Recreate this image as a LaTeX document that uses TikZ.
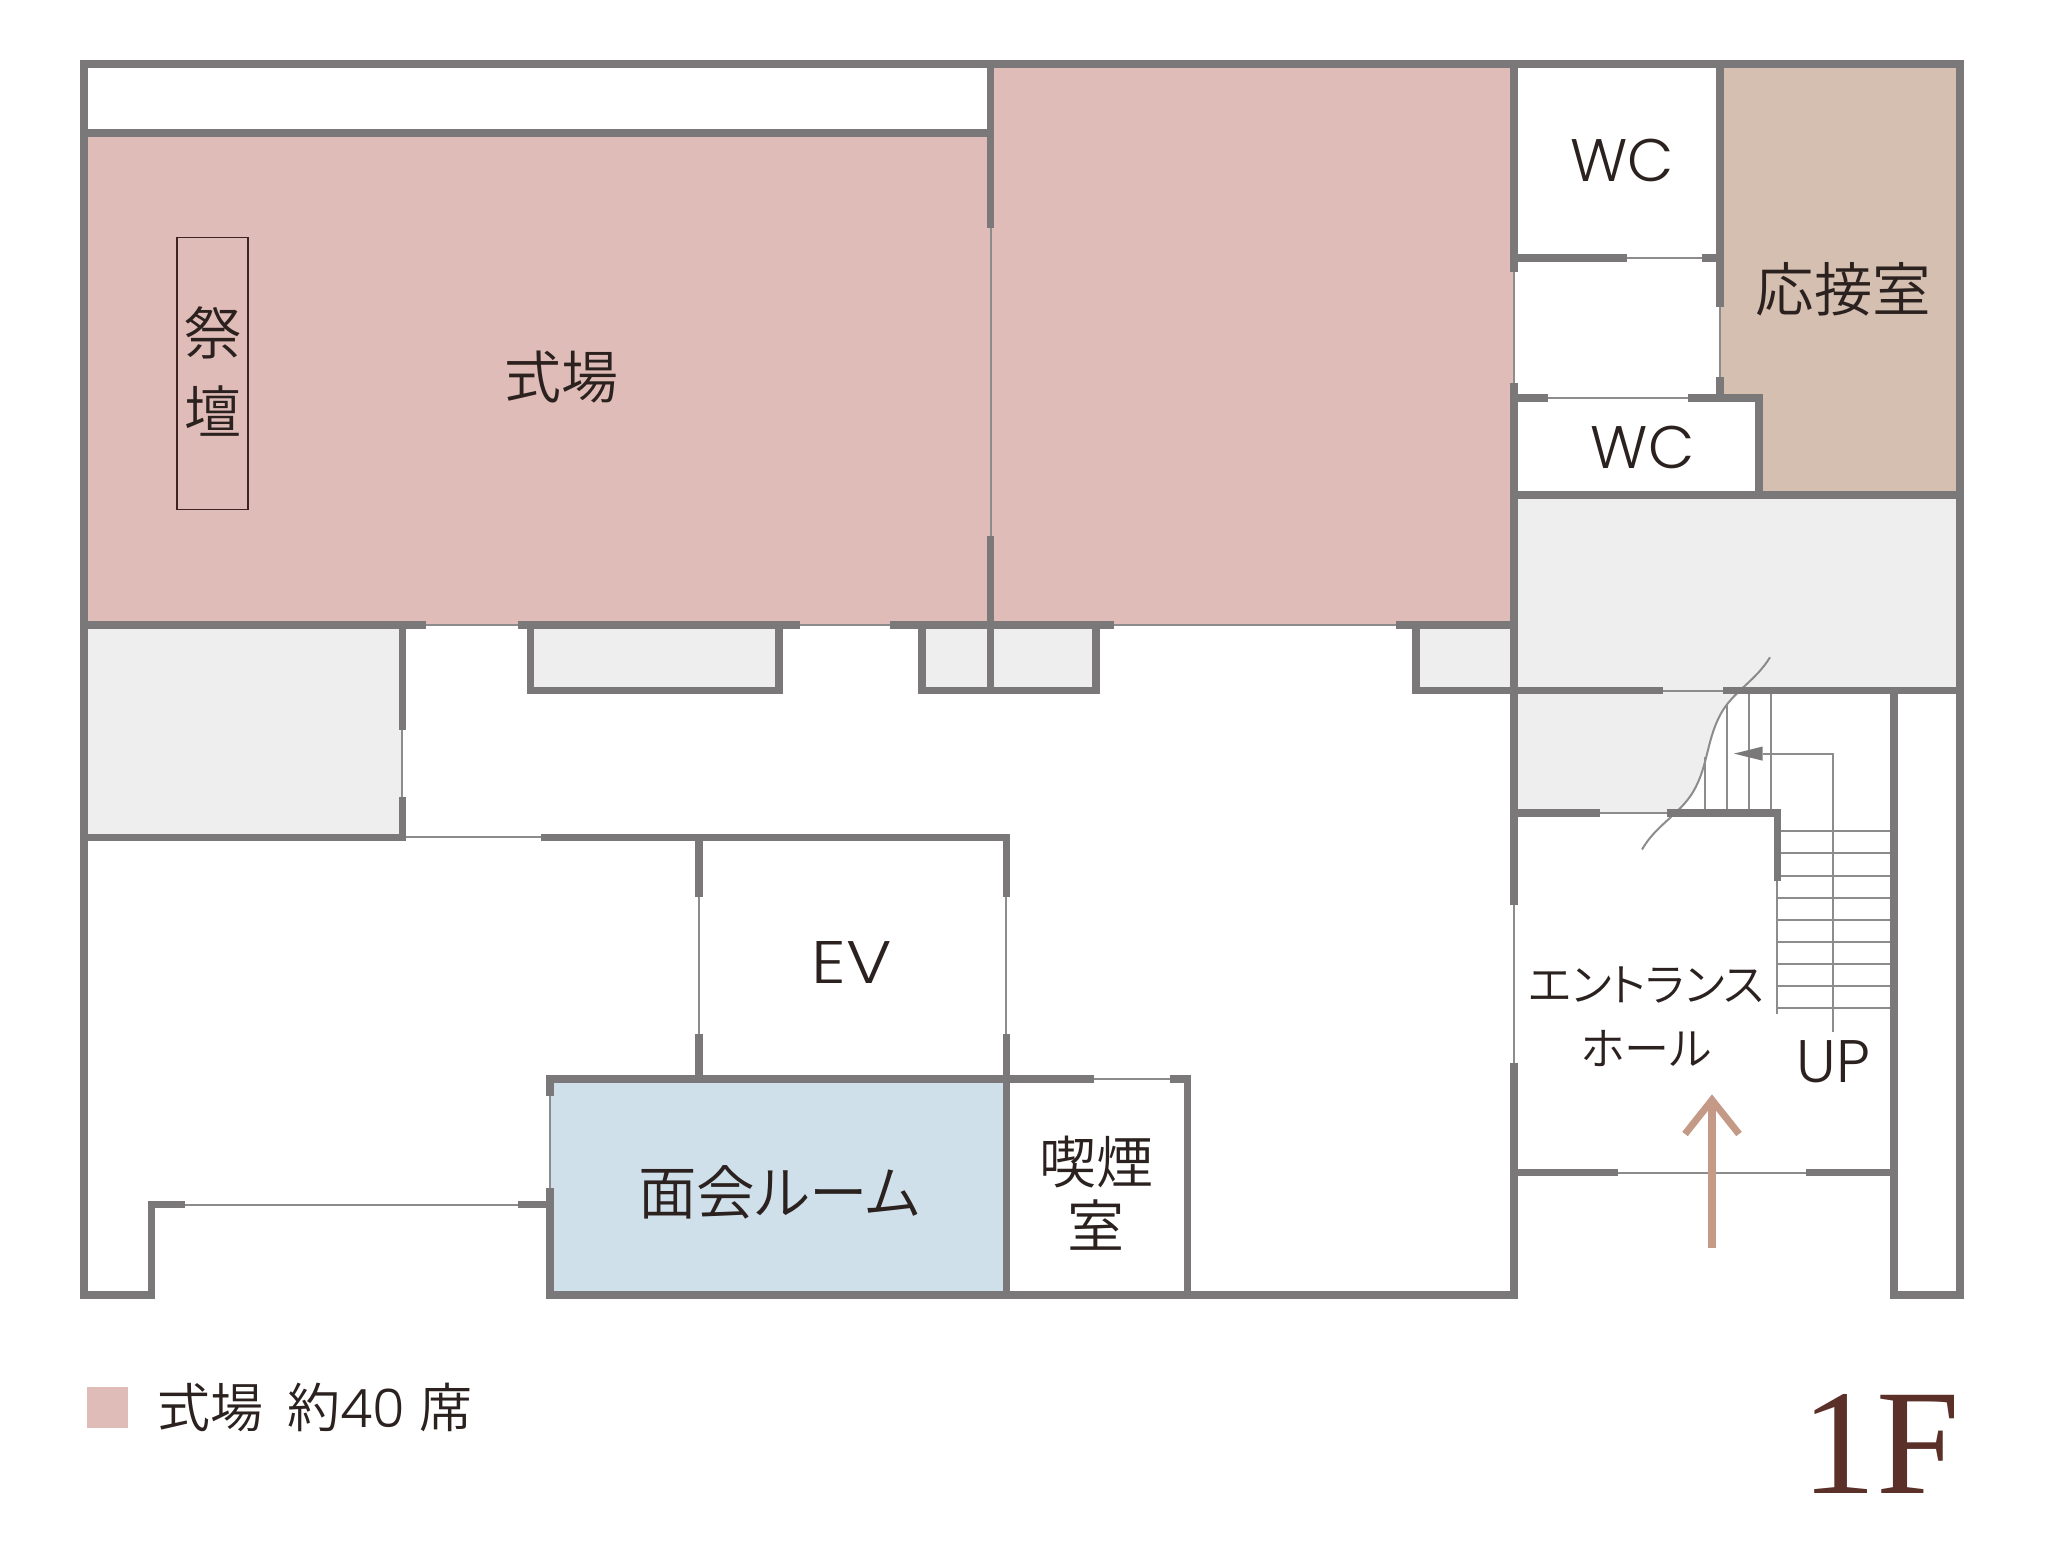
\documentclass[tikz,border=0pt]{standalone}
\usepackage{fontspec}
\usepackage{xcolor}
\newfontfamily\cjkfont[RawFeature=+palt]{Noto Sans CJK JP DemiLight}
\newfontfamily\latinfont{Poppins Light}
\newfontfamily\floorfont{Liberation Serif}
\definecolor{wallgray}{HTML}{7A7878}
\definecolor{doorgray}{HTML}{8C8C8C}
\definecolor{hallpink}{HTML}{E0BCB8}
\definecolor{roomtan}{HTML}{D4BFB1}
\definecolor{storegray}{HTML}{EEEEEF}
\definecolor{meetblue}{HTML}{D0E0EB}
\definecolor{entrybrown}{HTML}{C49A86}
\definecolor{floorbrown}{HTML}{5A3028}
\definecolor{altarline}{HTML}{3E2320}
\definecolor{labelink}{HTML}{2B2220}
\newcommand{\stairbreak}{(1770,657.3) .. controls (1756,680) and (1736,690) .. (1723,710) .. controls (1706,738) and (1709,765) .. (1693,792) .. controls (1679,815) and (1656,825) .. (1642,849.5)}

\begin{document}
\begin{tikzpicture}[x=1pt,y=-1pt,line width=1pt]
  \tikzstyle{thick wall} = [draw=wallgray,line width=7.6pt,miter limit=10]
  \tikzstyle{thin wall} = [draw=doorgray,line width=2pt]
  \tikzstyle{room label} = [inner sep=0pt,text=labelink,font=\cjkfont\fontsize{57}{57}\selectfont]
  \tikzstyle{wide label} = [inner sep=0pt,text=labelink,font=\cjkfont\fontsize{58.5}{58.5}\selectfont]
  \tikzstyle{kana label} = [inner sep=0pt,text=labelink,font=\cjkfont\fontsize{45}{45}\selectfont]
  \tikzstyle{latin label} = [inner sep=0pt,text=labelink,font=\latinfont\fontsize{60}{60}\selectfont]
  \path[use as bounding box,fill=white] (0,0) rectangle (2048,1547);

  % room fills
  \fill[hallpink] (84,133) rectangle (990.5,625);
  \fill[hallpink] (990.5,64) rectangle (1514,625);
  \fill[roomtan] (1720,64) -- (1960,64) -- (1960,495) -- (1758.7,495) -- (1758.7,398) -- (1720,398) -- cycle;
  \fill[storegray] (84,625) rectangle (402.4,837.4);
  \fill[storegray] (530.6,625) rectangle (778.7,690.6);
  \fill[storegray] (922,625) rectangle (1095.7,690.6);
  \fill[storegray] (1415.8,625) rectangle (1514,690.6);
  \fill[storegray] (1514,495) rectangle (1960,690.5);
  \begin{scope}
    \clip (1514,690.5) rectangle (1800,813);
    \fill[storegray] \stairbreak -- (1514,849.5) -- (1514,657.3) -- cycle;
  \end{scope}
  \fill[meetblue] (549.7,1079) rectangle (1006.4,1295);

  % doors and sliding partitions
  \path[thin wall] (990.5,227.5) -- (990.5,535.6);
  \path[thin wall] (426,625) -- (517.6,625);
  \path[thin wall] (799.7,625) -- (890.3,625);
  \path[thin wall] (1114,625) -- (1396,625);
  \path[thin wall] (402.4,729.8) -- (402.4,797.3);
  \path[thin wall] (402.4,837.4) -- (541,837.4);
  \path[thin wall] (699,897.3) -- (699,1034);
  \path[thin wall] (1006.4,897.3) -- (1006.4,1034);
  \path[thin wall] (185,1204.5) -- (517.6,1204.5);
  \path[thin wall] (549.7,1095.5) -- (549.7,1187.5);
  \path[thin wall] (1094.4,1079) -- (1169.6,1079);
  \path[thin wall] (1514,272) -- (1514,382.6);
  \path[thin wall] (1720,306.7) -- (1720,377);
  \path[thin wall] (1626.7,258) -- (1701.7,258);
  \path[thin wall] (1548.3,398) -- (1688.3,398);
  \path[thin wall] (1663.3,690.5) -- (1723.3,690.5);
  \path[thin wall] (1600,813) -- (1666.7,813);
  \path[thin wall] (1514,904.5) -- (1514,1062.8);
  \path[thin wall] (1618.3,1172.5) -- (1806,1172.5);
  \path[thin wall] (1777.3,880.7) -- (1777.3,1013.8);

  % stairs
  \path[thin wall] (1777.3,830.8) -- (1894,830.8);
  \path[thin wall] (1777.3,853.4) -- (1894,853.4);
  \path[thin wall] (1777.3,875.5) -- (1894,875.5);
  \path[thin wall] (1777.3,897.6) -- (1894,897.6);
  \path[thin wall] (1777.3,919.7) -- (1894,919.7);
  \path[thin wall] (1777.3,941.8) -- (1894,941.8);
  \path[thin wall] (1777.3,963.5) -- (1894,963.5);
  \path[thin wall] (1777.3,985.6) -- (1894,985.6);
  \path[thin wall] (1777.3,1007.7) -- (1894,1007.7);
  \path[thin wall] (1704.7,757) -- (1704.7,813);
  \path[thin wall] (1727,705) -- (1727,813);
  \path[thin wall] (1749,690.5) -- (1749,813);
  \path[thin wall] (1771.3,690.5) -- (1771.3,813);
  \path[thin wall] \stairbreak;

  \coordinate (up start) at (1833,1032);
  \coordinate (up turn) at (1833,753.6);
  \coordinate (up tip) at (1734,753.6);
  \path[thin wall] (up start) -- (up turn) -- (1762.7,753.6);
  \fill[wallgray] (up tip) -- (1762.7,746.5) -- (1762.7,760.7) -- cycle;

  % walls
  \path[thick wall] (185,1204.5) -- (151.5,1204.5) -- (151.5,1295) -- (84,1295) -- (84,64) -- (1960,64) -- (1960,1295) -- (1894,1295) -- (1894,690.5);
  \path[thick wall] (84,133) -- (990.5,133);
  \path[thick wall] (990.5,64) -- (990.5,227.5);
  \path[thick wall] (990.5,535.6) -- (990.5,690.6);
  \path[thick wall] (84,625) -- (426,625);
  \path[thick wall] (517.6,625) -- (799.7,625);
  \path[thick wall] (890.3,625) -- (1114,625);
  \path[thick wall] (1396,625) -- (1514,625);
  \path[thick wall] (530.6,625) -- (530.6,690.6) -- (778.7,690.6) -- (778.7,625);
  \path[thick wall] (922,625) -- (922,690.6) -- (1095.7,690.6) -- (1095.7,625);
  \path[thick wall] (1415.8,625) -- (1415.8,690.6) -- (1514,690.6);
  \path[thick wall] (402.4,625) -- (402.4,729.8);
  \path[thick wall] (402.4,797.3) -- (402.4,837.4) -- (84,837.4);
  \path[thick wall] (1514,690.5) -- (1663.3,690.5);
  \path[thick wall] (1723.3,690.5) -- (1960,690.5);
  \path[thick wall] (1514,64) -- (1514,272);
  \path[thick wall] (1514,382.6) -- (1514,904.5);
  \path[thick wall] (1514,1062.8) -- (1514,1295) -- (549.7,1295) -- (549.7,1187.5);
  \path[thick wall] (549.7,1095.5) -- (549.7,1079) -- (1094.4,1079);
  \path[thick wall] (1006.4,1295) -- (1006.4,1034);
  \path[thick wall] (1006.4,897.3) -- (1006.4,837.4) -- (541,837.4);
  \path[thick wall] (699,837.4) -- (699,897.3);
  \path[thick wall] (699,1034) -- (699,1079);
  \path[thick wall] (1169.6,1079) -- (1187.5,1079) -- (1187.5,1295);
  \path[thick wall] (517.6,1204.5) -- (549.7,1204.5);
  \path[thick wall] (1514,258) -- (1626.7,258);
  \path[thick wall] (1701.7,258) -- (1720,258);
  \path[thick wall] (1720,64) -- (1720,306.7);
  \path[thick wall] (1720,377) -- (1720,398);
  \path[thick wall] (1514,398) -- (1548.3,398);
  \path[thick wall] (1688.3,398) -- (1758.7,398) -- (1758.7,495);
  \path[thick wall] (1514,495) -- (1960,495);
  \path[thick wall] (1514,813) -- (1600,813);
  \path[thick wall] (1666.7,813) -- (1777.3,813) -- (1777.3,880.7);
  \path[thick wall] (1514,1172.5) -- (1618.3,1172.5);
  \path[thick wall] (1806,1172.5) -- (1894,1172.5);

  % altar
  \node[draw=altarline,line width=1.8pt,minimum width=71.5pt,minimum height=272pt,inner sep=0pt] (altar) at (212.4,373.4) {};

  % entry arrow
  \coordinate (entry start) at (1712,1248);
  \coordinate (entry tip) at (1712,1100);
  \draw[entrybrown,line width=8pt] (entry start) -- (entry tip);
  \draw[entrybrown,line width=7pt,miter limit=10] (1685,1134) -- (entry tip) -- (1739,1134);

  % labels
  \node[room label] (sai) at (212.5,332.5) {祭};
  \node[room label] (dan) at (212.5,411.2) {壇};
  \node[room label] (shikijo) at (561.5,376.8) {式場};
  \node[wide label] (oosetsu) at (1843.5,289.4) {応接室};
  \node[latin label] (wc upper) at (1621.8,160.5) {WC};
  \node[latin label] (wc lower) at (1642.5,447.5) {WC};
  \node[latin label,font=\latinfont\fontsize{60}{60}\selectfont\addfontfeature{FakeStretch=1.15}] (ev) at (852,962.4) {EV};
  \node[wide label] (menkai) at (779.3,1192.7) {面会ルーム};
  \node[room label] (kitsuen) at (1096.3,1162.5) {喫煙};
  \node[room label] (shitsu) at (1096.3,1225.3) {室};
  \node[kana label] (entrance) at (1646.5,984.7) {エントランス};
  \node[kana label] (hall) at (1646.5,1048.5) {ホール};
  \node[latin label] (up) at (1833.6,1061.6) {UP};

  % legend and floor mark
  \fill[hallpink] (87.3,1386.7) rectangle (128.3,1428.3);
  \node[room label,font=\cjkfont\fontsize{53}{53}\selectfont,anchor=west] (legend) at (157,1407) {式場\hspace{24pt}約{\latinfont 40}\hspace{14pt}席};
  \node[inner sep=0pt,anchor=base,text=floorbrown,font=\floorfont\fontsize{150}{150}\selectfont] (floor) at (1881,1493.5) {1F};
\end{tikzpicture}
\end{document}
